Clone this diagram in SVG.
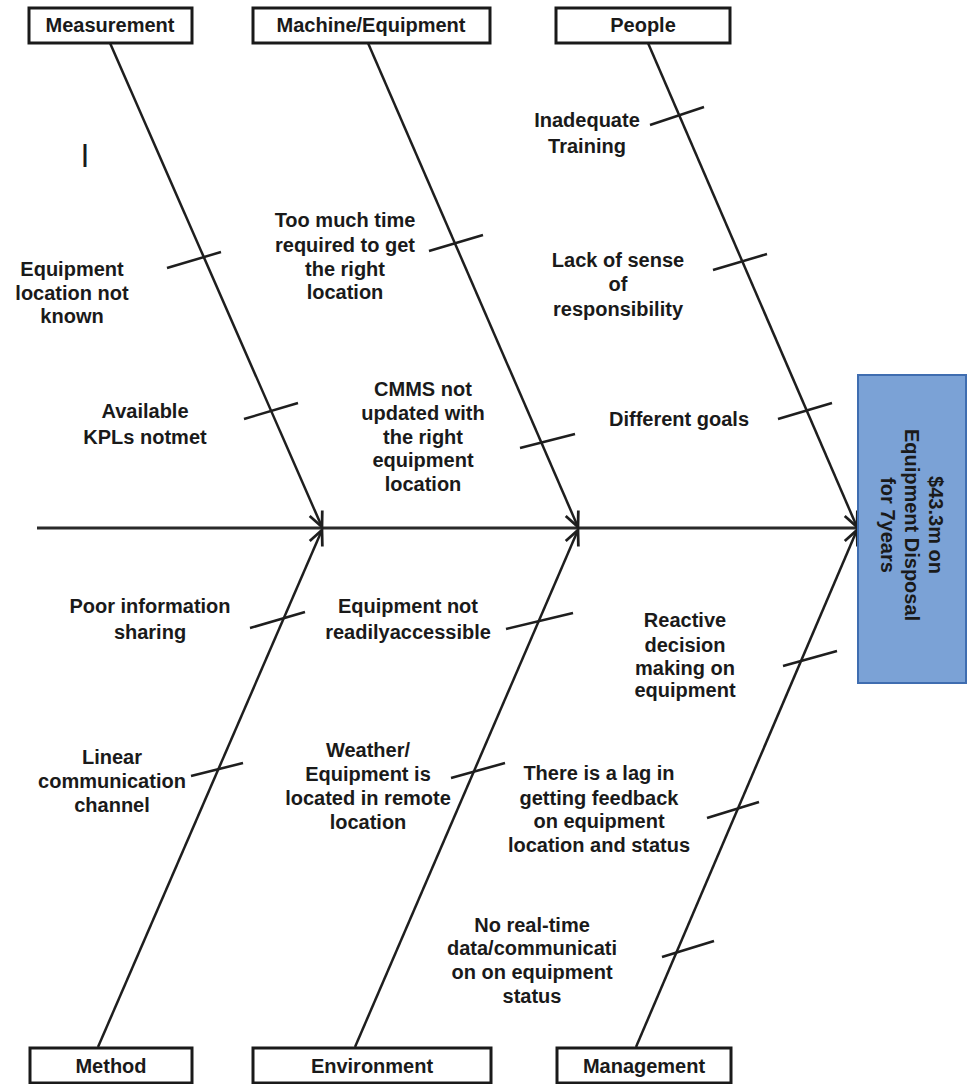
<svg xmlns="http://www.w3.org/2000/svg" width="967" height="1084" viewBox="0 0 967 1084">
<style>
.box{fill:#fff;stroke:#1a1a1a;stroke-width:3}
.t{font-family:"Liberation Sans",Arial,sans-serif;font-weight:bold;font-size:20px;fill:#1a1a1a;text-anchor:middle}
.bone{stroke:#1e1e1e;stroke-width:2.5;fill:none}
.tick{stroke:#1e1e1e;stroke-width:2.5;fill:none}
.spine{stroke:#2a2a2a;stroke-width:3;fill:none}
</style>
<defs>
<marker id="arr" markerUnits="userSpaceOnUse" markerWidth="20" markerHeight="20" viewBox="-14 -8 16 16" refX="0" refY="0" orient="auto">
<path d="M-12,-5.5 L0,0 L-12,5.5" fill="none" stroke="#1e1e1e" stroke-width="2.2"/>
</marker>
</defs>
<rect width="967" height="1084" fill="#fff"/>

<g id="connectors">
<line class="spine" x1="37" y1="528" x2="858" y2="528"/>
<line class="bone" x1="110" y1="43" x2="322" y2="527" marker-end="url(#arr)"/>
<line class="bone" x1="368" y1="43" x2="578" y2="527" marker-end="url(#arr)"/>
<line class="bone" x1="648" y1="43" x2="857" y2="527" marker-end="url(#arr)"/>
<line class="bone" x1="98" y1="1047" x2="322" y2="530" marker-end="url(#arr)"/>
<line class="bone" x1="355" y1="1047" x2="578" y2="530" marker-end="url(#arr)"/>
<line class="bone" x1="636" y1="1047" x2="857" y2="530" marker-end="url(#arr)"/>
<line class="tick" x1="167" y1="268" x2="221" y2="252"/>
<line class="tick" x1="244" y1="419" x2="298" y2="403"/>
<line class="tick" x1="429" y1="251" x2="483" y2="235"/>
<line class="tick" x1="520" y1="448" x2="575" y2="434"/>
<line class="tick" x1="650" y1="125" x2="704" y2="107"/>
<line class="tick" x1="713" y1="270" x2="767" y2="254"/>
<line class="tick" x1="778" y1="419" x2="832" y2="403"/>
<line class="tick" x1="250" y1="628" x2="305" y2="612"/>
<line class="tick" x1="506" y1="629" x2="573" y2="613"/>
<line class="tick" x1="191" y1="776" x2="243" y2="763"/>
<line class="tick" x1="451" y1="778" x2="505" y2="763"/>
<line class="tick" x1="783" y1="666" x2="837" y2="651"/>
<line class="tick" x1="707" y1="818" x2="759" y2="802"/>
<line class="tick" x1="662" y1="957" x2="714" y2="941"/>
</g>

<g id="measurement"><rect class="box" x="29" y="8" width="163" height="35"/><text class="t" x="110" y="32">Measurement</text></g>
<g id="machine"><rect class="box" x="253" y="8" width="237" height="35"/><text class="t" x="371" y="32">Machine/Equipment</text></g>
<g id="people"><rect class="box" x="556" y="8" width="174" height="35"/><text class="t" x="643" y="32">People</text></g>
<g id="method"><rect class="box" x="30" y="1048" width="162" height="35"/><text class="t" x="111" y="1073">Method</text></g>
<g id="environment"><rect class="box" x="253" y="1048" width="238" height="35"/><text class="t" x="372" y="1073">Environment</text></g>
<g id="management"><rect class="box" x="557" y="1048" width="174" height="35"/><text class="t" x="644" y="1073">Management</text></g>

<g id="effect">
<rect x="858" y="375" width="108" height="308" fill="#7ba2d6" stroke="#3f6db0" stroke-width="2"/>
<g transform="translate(912,525) rotate(90)">
<text class="t" x="0" y="-17">$43.3m on</text>
<text class="t" x="0" y="7">Equipment Disposal</text>
<text class="t" x="0" y="31">for 7years</text>
</g>
</g>

<g id="stray"><text class="t" x="85" y="162" style="font-size:23px">|</text></g>

<g id="c-loc-unknown"><text class="t" x="72"><tspan x="72" y="276">Equipment</tspan><tspan x="72" y="300">location not</tspan><tspan x="72" y="323">known</tspan></text></g>
<g id="c-kpl"><text class="t" x="145"><tspan x="145" y="418">Available</tspan><tspan x="145" y="444">KPLs notmet</tspan></text></g>
<g id="c-time"><text class="t" x="345"><tspan x="345" y="227">Too much time</tspan><tspan x="345" y="252">required to get</tspan><tspan x="345" y="276">the right</tspan><tspan x="345" y="299">location</tspan></text></g>
<g id="c-cmms"><text class="t" x="423"><tspan x="423" y="396">CMMS not</tspan><tspan x="423" y="420">updated with</tspan><tspan x="423" y="444">the right</tspan><tspan x="423" y="467">equipment</tspan><tspan x="423" y="491">location</tspan></text></g>
<g id="c-training"><text class="t" x="587"><tspan x="587" y="127">Inadequate</tspan><tspan x="587" y="153">Training</tspan></text></g>
<g id="c-responsibility"><text class="t" x="618"><tspan x="618" y="267">Lack of sense</tspan><tspan x="618" y="291">of</tspan><tspan x="618" y="316">responsibility</tspan></text></g>
<g id="c-goals"><text class="t" x="679" y="426">Different goals</text></g>
<g id="c-sharing"><text class="t" x="150"><tspan x="150" y="613">Poor information</tspan><tspan x="150" y="639">sharing</tspan></text></g>
<g id="c-access"><text class="t" x="408"><tspan x="408" y="613">Equipment not</tspan><tspan x="408" y="639">readilyaccessible</tspan></text></g>
<g id="c-channel"><text class="t" x="112"><tspan x="112" y="764">Linear</tspan><tspan x="112" y="788">communication</tspan><tspan x="112" y="812">channel</tspan></text></g>
<g id="c-weather"><text class="t" x="368"><tspan x="368" y="757">Weather/</tspan><tspan x="368" y="781">Equipment is</tspan><tspan x="368" y="805">located in remote</tspan><tspan x="368" y="829">location</tspan></text></g>
<g id="c-reactive"><text class="t" x="685"><tspan x="685" y="627">Reactive</tspan><tspan x="685" y="652">decision</tspan><tspan x="685" y="675">making on</tspan><tspan x="685" y="697">equipment</tspan></text></g>
<g id="c-lag"><text class="t" x="599"><tspan x="599" y="780">There is a lag in</tspan><tspan x="599" y="805">getting feedback</tspan><tspan x="599" y="828">on equipment</tspan><tspan x="599" y="852">location and status</tspan></text></g>
<g id="c-realtime"><text class="t" x="532"><tspan x="532" y="932">No real-time</tspan><tspan x="532" y="955">data/communicati</tspan><tspan x="532" y="979">on on equipment</tspan><tspan x="532" y="1003">status</tspan></text></g>
</svg>
